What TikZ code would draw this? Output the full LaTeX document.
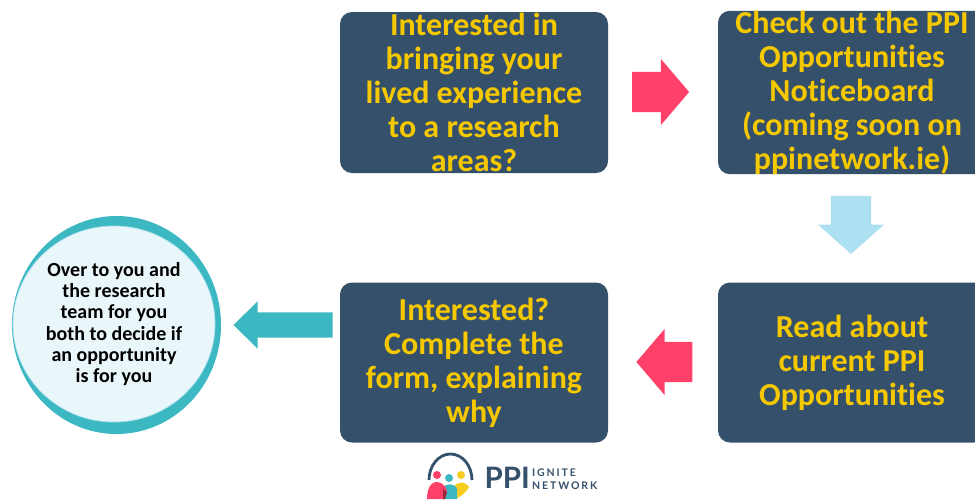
\documentclass[tikz,border=0pt]{standalone}
\usepackage{fontspec}
\usepackage{xcolor}
\setmainfont{Carlito}[Ligatures=NoCommon]
\newfontfamily\logoFont[LetterSpace=18]{Lato}
\newfontfamily\logoBigFont{Lato}
\usetikzlibrary{shapes.geometric, shapes.arrows}

% Define custom colors for boxes, arrows and logo
\definecolor{boxColor}{RGB}{53,80,107}
\definecolor{textColor}{RGB}{245,200,0}
\definecolor{pinkColor}{RGB}{255,64,105}
\definecolor{skyColor}{RGB}{173,224,241}
\definecolor{tealColor}{RGB}{60,184,194}
\definecolor{paleColor}{RGB}{234,247,250}
\definecolor{sunColor}{RGB}{248,205,30}

\tikzset{
    stepbox/.style={fill=boxColor, rounded corners=12pt, minimum width=268pt, inner sep=0pt,
        text=textColor, align=center, font=\bfseries\fontsize{32}{34}\selectfont},
    blockarrow/.style={single arrow, inner sep=0pt, outer sep=0pt, text width=0pt, text depth=0pt}
}

\begin{document}
\begin{tikzpicture}[x=1pt, y=-1pt]
        % Page frame, the right boxes run off its edge
        \useasboundingbox (0,0) rectangle (975,499);
        \clip (0,0) rectangle (975,499);

        % Macro to draw one step box: name, center x, center y, height, text
        \newcommand{\drawStepBox}[5]{
            \node[stepbox, minimum height=#4pt] (#1) at (#2, #3) {#5};
        }

        % Macro to draw one block arrow:
        % name, center x, center y, angle, length, shaft width, head extend, tip angle, color
        \newcommand{\drawBlockArrow}[9]{
            \node[blockarrow, rotate=#4, minimum height=#5pt, text height=#6pt,
                single arrow head extend=#7pt, single arrow tip angle=#8, fill=#9] (#1) at (#2, #3) {};
        }

        % Step boxes
        \drawStepBox{interested}{474}{92.5}{161}{Interested in\\bringing your\\lived experience\\to a research\\areas?};
        \drawStepBox{noticeboard}{852}{92.5}{161}{Check out the PPI\\Opportunities\\Noticeboard\\(coming soon on\\ppinetwork.ie)};
        \drawStepBox{current}{852}{362.5}{160}{Read about\\current PPI\\Opportunities};
        \drawStepBox{form}{474}{362.5}{160}{Interested?\\Complete the\\form, explaining\\why};

        % Block arrows between the boxes
        \drawBlockArrow{arrowA}{652}{92}{0}{57}{40}{13}{99}{pinkColor};
        \drawBlockArrow{arrowB}{851}{216}{-90}{58}{40}{13}{97}{skyColor};
        \drawBlockArrow{arrowC}{673}{362}{180}{56}{40}{13}{99}{pinkColor};
        \drawBlockArrow{arrowD}{289.5}{325}{180}{99}{25}{11}{89}{tealColor};

        % Closing circle, teal ring is thicker at top and bottom
        \node[ellipse, fill=tealColor, minimum width=209pt, minimum height=218pt, inner sep=0pt] (ring) at (116.5, 325) {};
        \node[ellipse, fill=paleColor, draw=skyColor, line width=0.8pt, minimum width=202pt, minimum height=196pt, inner sep=0pt,
            align=center, font=\bfseries\fontsize{20}{21.2}\selectfont] (circle) at (114, 324) {Over to you and\\the research\\team for you\\both to decide if\\an opportunity\\is for you};

        % Logo: arc, three heads and three bodies
        \draw[boxColor, line width=2.8pt] (429, 480) arc[start angle=180, end angle=0, x radius=21.5, y radius=-26] coordinate (logoEnd);
        \fill[pinkColor] (437, 475) circle[radius=4];
        \fill[tealColor] (449, 478) circle[radius=4];
        \fill[sunColor] (461, 475) circle[radius=4];
        \fill[sunColor] (455, 485) .. controls (460, 481) and (466, 482) .. (469, 487) .. controls (466, 493) and (460, 497) .. (455, 499) -- cycle;
        \fill[tealColor] (443, 499) -- (443, 488) .. controls (445, 483) and (454, 483) .. (457, 488) -- (457, 499) -- cycle;
        \fill[pinkColor] (427, 499) .. controls (427, 490) and (430, 482) .. (437, 482) .. controls (442, 482) and (447, 487) .. (447, 492) -- (445, 499) -- cycle;
        \fill[pinkColor!60!black] (443, 489) -- (447, 492) -- (445, 499) -- (443, 499) -- cycle;

        % Logo text
        \node[anchor=west, inner sep=0pt, text=boxColor, font=\logoBigFont\bfseries\fontsize{29.5}{29.5}\selectfont] (logoPPI) at (484.5, 478) {PPI};
        \node[anchor=west, inner sep=0pt, text=boxColor, align=left, font=\logoFont\bfseries\fontsize{10.5}{13}\selectfont] (logoName) at (532, 479) {IGNITE\\NETWORK};
\end{tikzpicture}
\end{document}
